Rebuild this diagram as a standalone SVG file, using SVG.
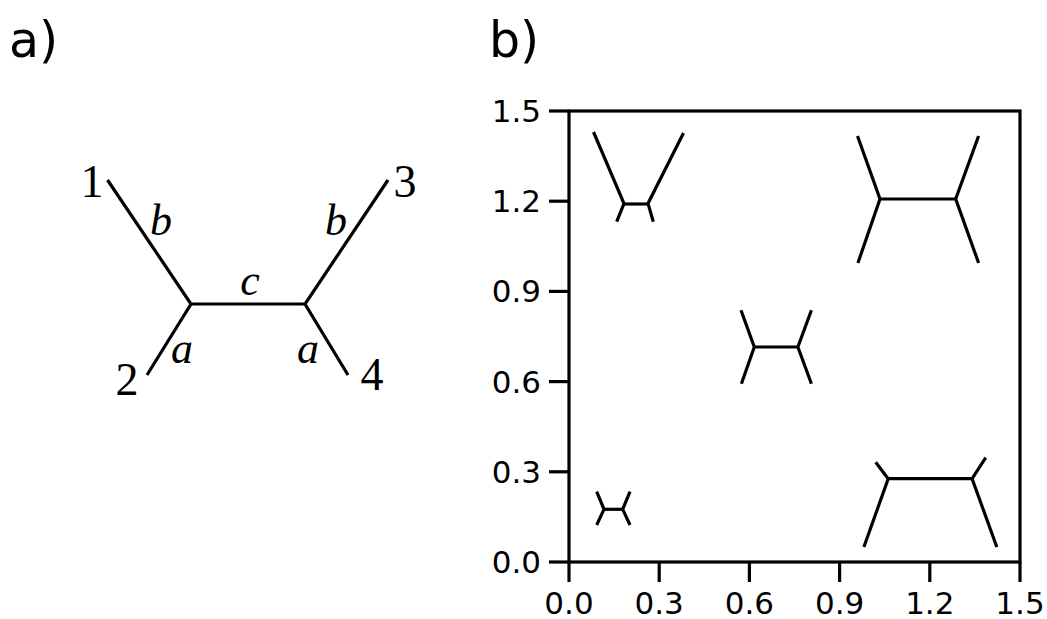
<svg xmlns="http://www.w3.org/2000/svg" width="1047" height="619" viewBox="0 0 1047 619">
<style>
.ln{stroke:#000;stroke-width:3.2;fill:none;stroke-linecap:butt;stroke-linejoin:miter}
.sp{stroke:#000;stroke-width:3.2;fill:none;stroke-linecap:square}
.tk{stroke:#000;stroke-width:3.2}
.pl{font-family:"DejaVu Sans",sans-serif;font-size:49px;fill:#000}
.tl{font-family:"DejaVu Sans",sans-serif;font-size:31px;fill:#000}
.num{font-family:"Liberation Serif",serif;font-size:46px;fill:#000;text-anchor:middle}
.it{font-family:"Liberation Serif",serif;font-style:italic;font-size:44px;fill:#000;text-anchor:middle}
</style>
<rect width="1047" height="619" fill="#fff"/>
<text class="pl" x="9" y="57">a)</text>
<text class="pl" x="489" y="57">b)</text>

<g id="panel-a">
  <g id="edges-a">
    <polyline class="ln" points="107.5,180 191,304 147,375"/>
    <polyline class="ln" points="388,180 305,304 348,375"/>
    <line class="ln" x1="191" y1="304" x2="305" y2="304"/>
  </g>
  <g id="leaf-1"><text class="num" x="92" y="197">1</text></g>
  <g id="leaf-2"><text class="num" x="127" y="395">2</text></g>
  <g id="leaf-3"><text class="num" x="405" y="197">3</text></g>
  <g id="leaf-4"><text class="num" x="372" y="390">4</text></g>
  <g id="edge-labels">
    <text class="it" x="161" y="235">b</text>
    <text class="it" x="336" y="235">b</text>
    <text class="it" x="250" y="295">c</text>
    <text class="it" x="182" y="363">a</text>
    <text class="it" x="308" y="363">a</text>
  </g>
</g>

<g id="panel-b">
  <g id="axes">
    <rect class="sp" x="569" y="111" width="451" height="451"/>
    <line class="tk" x1="549" y1="562" x2="569" y2="562"/>
    <line class="tk" x1="549" y1="471.8" x2="569" y2="471.8"/>
    <line class="tk" x1="549" y1="381.6" x2="569" y2="381.6"/>
    <line class="tk" x1="549" y1="291.4" x2="569" y2="291.4"/>
    <line class="tk" x1="549" y1="201.2" x2="569" y2="201.2"/>
    <line class="tk" x1="549" y1="111" x2="569" y2="111"/>
    <line class="tk" x1="569" y1="562" x2="569" y2="582"/>
    <line class="tk" x1="659.2" y1="562" x2="659.2" y2="582"/>
    <line class="tk" x1="749.4" y1="562" x2="749.4" y2="582"/>
    <line class="tk" x1="839.6" y1="562" x2="839.6" y2="582"/>
    <line class="tk" x1="929.8" y1="562" x2="929.8" y2="582"/>
    <line class="tk" x1="1020" y1="562" x2="1020" y2="582"/>
    <g class="tl" text-anchor="end">
      <text x="541" y="573">0.0</text>
      <text x="541" y="482.8">0.3</text>
      <text x="541" y="392.6">0.6</text>
      <text x="541" y="302.4">0.9</text>
      <text x="541" y="212.2">1.2</text>
      <text x="541" y="122">1.5</text>
    </g>
    <g class="tl" text-anchor="middle">
      <text x="569" y="614">0.0</text>
      <text x="659.2" y="614">0.3</text>
      <text x="749.4" y="614">0.6</text>
      <text x="839.6" y="614">0.9</text>
      <text x="929.8" y="614">1.2</text>
      <text x="1020" y="614">1.5</text>
    </g>
  </g>
  <g id="tree-top-left">
    <polyline class="ln" points="593.5,132 624,203.5 616.7,221.7"/>
    <polyline class="ln" points="683.5,133 648,203.5 653.3,221.7"/>
    <line class="ln" x1="624" y1="204" x2="648" y2="204"/>
  </g>
  <g id="tree-top-right">
    <polyline class="ln" points="857.5,136 880,199 857.9,263"/>
    <polyline class="ln" points="978.6,136 955.7,199 978.6,263"/>
    <line class="ln" x1="880" y1="199" x2="955.7" y2="199"/>
  </g>
  <g id="tree-center">
    <polyline class="ln" points="741,310.3 754.3,347 741.4,383.7"/>
    <polyline class="ln" points="811.4,310.3 797.9,347 811.4,383.7"/>
    <line class="ln" x1="754.3" y1="347" x2="797.9" y2="347"/>
  </g>
  <g id="tree-bottom-left">
    <polyline class="ln" points="596.7,491.7 604,509.3 596.7,525"/>
    <polyline class="ln" points="630,491.7 622.7,509.3 630,525"/>
    <line class="ln" x1="604" y1="509.3" x2="622.7" y2="509.3"/>
  </g>
  <g id="tree-bottom-right">
    <polyline class="ln" points="875.7,462.3 888.2,478.7 863.9,547"/>
    <polyline class="ln" points="985.7,457.7 972.1,478.7 996.8,547"/>
    <line class="ln" x1="888.2" y1="478.7" x2="972.1" y2="478.7"/>
  </g>
</g>
</svg>
